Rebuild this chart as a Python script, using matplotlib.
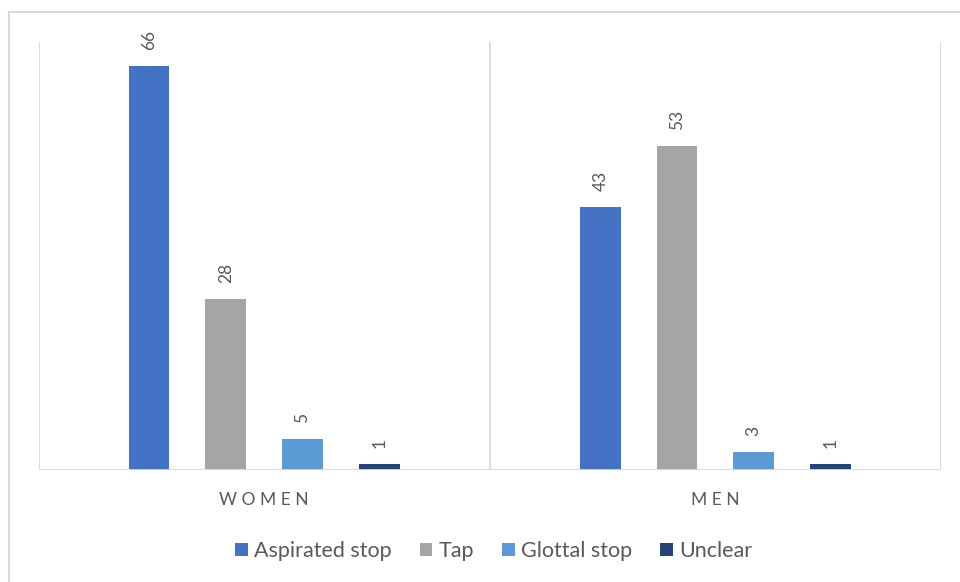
import matplotlib.pyplot as plt
from matplotlib.lines import Line2D
import numpy as np

plt.rcParams['font.family'] = ['Lato', 'DejaVu Sans']

groups = ["WOMEN", "MEN"]
series = ["Aspirated stop", "Tap", "Glottal stop", "Unclear"]
values = [
    [66, 43],
    [28, 53],
    [5, 3],
    [1, 1],
]
colors = ["#4472C4", "#A5A5A5", "#5B9BD5", "#264478"]

text_col = "#595959"
grid_col = "#D9D9D9"

fig = plt.figure(figsize=(9.6, 5.82), dpi=100)
ax = fig.add_axes([38.5 / 960, 1 - 470 / 582, (941 - 38.5) / 960, (470 - 42) / 582])

x = np.arange(len(groups))
width = 0.0906
step = 0.170
for i, (name, vals) in enumerate(zip(series, values)):
    pos = x + (i - 1.5) * step
    bars = ax.bar(pos, vals, width, color=colors[i], label=name, zorder=2)
    for b, v in zip(bars, vals):
        ax.annotate(str(v), (b.get_x() + b.get_width() / 2, v),
                    xytext=(0, 11.5), textcoords="offset points",
                    rotation=90, ha="center", va="bottom",
                    color=text_col, fontsize=12.5)

ax.set_xlim(-0.5, 1.5)
ax.set_ylim(0, 70)
for gx in [-0.5, 0.5, 1.5]:
    ax.axvline(gx, color=grid_col, lw=1.3, zorder=1)
ax.axhline(0, color=grid_col, lw=1.3, zorder=3)

for s in ax.spines.values():
    s.set_visible(False)
ax.set_yticks([])
ax.set_xticks(x)
ax.set_xticklabels([" ".join(g) for g in groups], color=text_col, fontsize=12.5)
ax.tick_params(axis="x", length=0, pad=16)

fig.legend(loc="center", bbox_to_anchor=(494 / 960, 1 - 551 / 582), ncol=4,
           frameon=False, fontsize=15.5, labelcolor=text_col,
           handlelength=0.58, handleheight=0.58, handletextpad=0.3,
           columnspacing=1.3)

# outer chart border
fig.add_artist(Line2D([9 / 960, 1.0], [1 - 12 / 582, 1 - 12 / 582],
                      transform=fig.transFigure, color=grid_col, lw=1.5))
fig.add_artist(Line2D([9 / 960, 9 / 960], [0.0, 1 - 12 / 582],
                      transform=fig.transFigure, color=grid_col, lw=1.5))

fig.savefig("out.png", dpi=100)
